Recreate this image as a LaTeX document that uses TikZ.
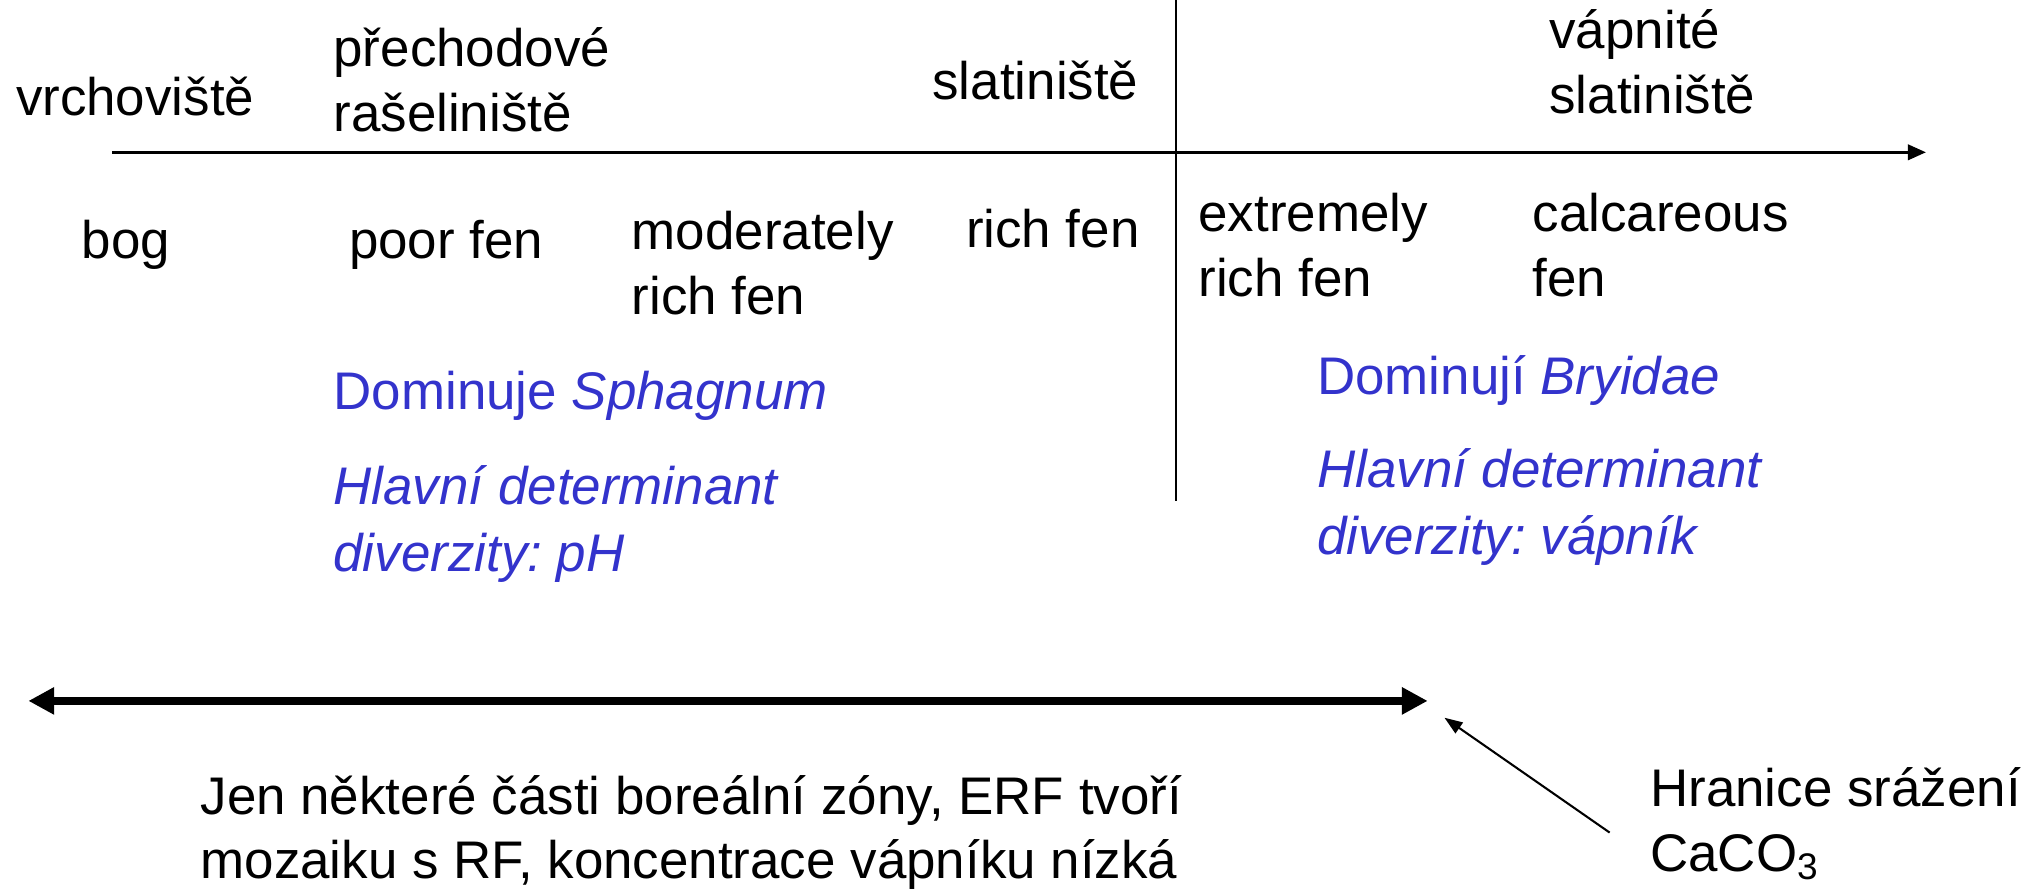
\documentclass[tikz,border=0pt]{standalone}
\usepackage{fontspec}
\setmainfont{Liberation Sans}
\usetikzlibrary{arrows.meta}
\definecolor{dblue}{RGB}{51,51,204}
\frenchspacing
\begin{document}
\begin{tikzpicture}[x=0.5pt,y=-0.5pt,
  lbl/.style={anchor=west,inner sep=0pt,font=\fontsize{20.5}{25}\selectfont,align=left},
  blbl/.style={lbl,text=dblue,font=\fontsize{20.5}{26}\selectfont},
  axisline/.style={line width=1pt,-{Triangle[length=7pt,width=6pt]}},
  divline/.style={line width=1pt},
  thickarrow/.style={line width=3pt,{Triangle[length=10pt,width=10pt]}-{Triangle[length=10pt,width=10pt]}},
  thinarrow/.style={line width=0.8pt,-{Triangle[length=7pt,width=5pt]}}]
\useasboundingbox (0,0) rectangle (1568,689);
% axis and divider
\coordinate (axS) at (87,118);
\coordinate (axE) at (1492,118);
\draw[axisline] (axS) -- (axE);
\coordinate (vT) at (911,0);
\coordinate (vB) at (911,388);
\draw[divline] (vT) -- (vB);
% Czech labels above axis
\node[lbl] (vrch) at (12,75) {vrchoviště};
\node[lbl] (prech) at (258,62) {přechodové\\rašeliniště};
\node[lbl] (slat) at (722,62) {slatiniště};
\node[lbl] (vapn) at (1200,48) {vápnité\\slatiniště};
% English labels below axis
\node[lbl] (bog) at (63,190) {bog};
\node[lbl] (poor) at (270,190) {poor fen};
\node[lbl] (mod) at (489,204) {moderately\\rich fen};
\node[lbl] (rich) at (748,177) {rich fen};
\node[lbl] (extr) at (928,190) {extremely\\rich fen};
\node[lbl] (calc) at (1187,190) {calcareous\\fen};
% blue notes
\node[blbl] (domS) at (258,307) {Dominuje \textit{Sphagnum}};
\node[blbl] (detS) at (258,406) {\textit{Hlavní determinant}\\\textit{diverzity: pH}};
\node[blbl] (domB) at (1020,295) {Dominují \textit{Bryidae}};
\node[blbl] (detB) at (1020,393) {\textit{Hlavní determinant}\\\textit{diverzity: vápník}};
% thick double arrow
\coordinate (tL) at (22,543);
\coordinate (tR) at (1106,543);
\draw[thickarrow] (tL) -- (tR);
% bottom texts
\node[lbl] (jen) at (155,645) {Jen některé části boreální zóny, ERF tvoří\\mozaiku s RF, koncentrace vápníku nízká};
\node[lbl] (hran) at (1278,638) {Hranice srážení\\CaCO\textsubscript{3}};
\coordinate (aS) at (1247,645);
\coordinate (aE) at (1119,556);
\draw[thinarrow] (aS) -- (aE);
\end{tikzpicture}
\end{document}
